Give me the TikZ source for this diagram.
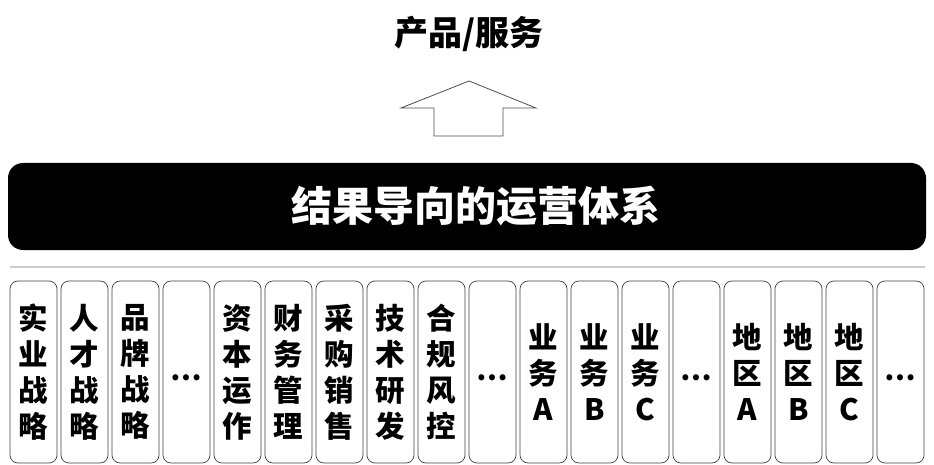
\documentclass[tikz,border=0pt]{standalone}
\usepackage{fontspec}
\newfontfamily\cjk{Noto Sans CJK SC}[BoldFont={Noto Sans CJK SC Black}]
\begin{document}
\begin{tikzpicture}[x=1pt,y=-1pt,
  colbox/.style={draw=black!75,line width=0.7pt,rounded corners=8pt,minimum width=47pt,minimum height=182pt,inner sep=0pt},
  coltext/.style={font=\cjk\bfseries\fontsize{29.5}{36}\selectfont,align=center,text=black},
  dots/.style={font=\cjk\bfseries\fontsize{28}{30}\selectfont}]
\useasboundingbox (0,0) rectangle (934,465);
\node[font=\cjk\bfseries\fontsize{34}{38}\selectfont] (title) at (469,34) {产品/服务};
\draw[black!70,line width=0.8pt] (434,136) -- (434,108) -- (401,108) -- (469,81) -- (536,108) -- (503,108) -- (503,136) -- cycle;
\node[fill=black,rounded corners=15pt,minimum width=918pt,minimum height=87pt,inner sep=0pt] (bar) at (467,206.5) {};
\node[font=\cjk\bfseries\fontsize{41}{44}\selectfont,text=white] (bartext) at (476,206) {结果导向的运营体系};
\coordinate (l1) at (10,267);
\coordinate (l2) at (925,267);
\draw[black!20,line width=1.5pt] (l1) -- (l2);
\foreach \i/\t in {0/{实\\业\\战\\略},1/{人\\才\\战\\略},2/{品\\牌\\战\\略},3/{},4/{资\\本\\运\\作},5/{财\\务\\管\\理},6/{采\\购\\销\\售},7/{技\\术\\研\\发},8/{合\\规\\风\\控},9/{},10/{业\\务\\A},11/{业\\务\\B},12/{业\\务\\C},13/{},14/{地\\区\\A},15/{地\\区\\B},16/{地\\区\\C},17/{}}{
  \node[colbox] (b\i) at (33.5+51*\i,372) {};
  \node[coltext] (t\i) at (b\i.center) {\t};
}
\foreach \i in {3,9,13,17}{
  \node[dots] (d\i) at ([yshift=-6pt]b\i.center) {…};
}
\end{tikzpicture}
\end{document}
